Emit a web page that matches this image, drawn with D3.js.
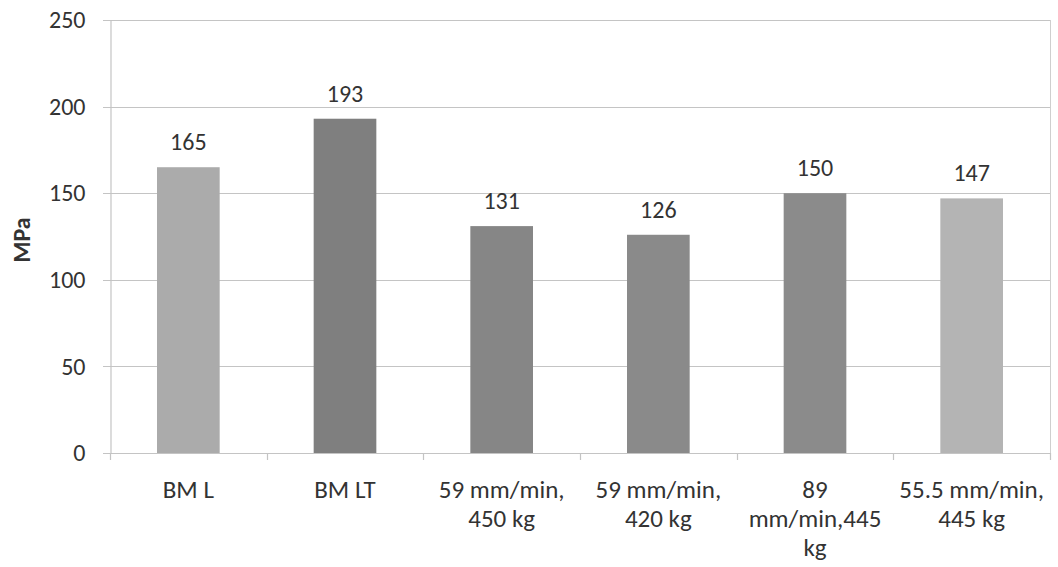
<!DOCTYPE html>
<html>
<head>
<meta charset="utf-8">
<script src="https://cdn.jsdelivr.net/npm/d3@7"></script>
<style>
  html, body { margin: 0; padding: 0; background: #ffffff; }
  svg { display: block; }
  text { font-family: Carlito, Calibri, Lato, "Liberation Sans", sans-serif; fill: #333; }
</style>
</head>
<body>
<svg id="chart" width="1058" height="567"></svg>
<script>
// Tensile strength by condition
const categories = [
  ["BM L"],
  ["BM LT"],
  ["59 mm/min,", "450 kg"],
  ["59 mm/min,", "420 kg"],
  ["89", "mm/min,445", "kg"],
  ["55.5 mm/min,", "445 kg"]
];
const values = [165, 193, 131, 126, 150, 147];
const barShades = ["#ababab", "#7f7f7f", "#868686", "#8a8a8a", "#8b8b8b", "#b4b4b4"];
const yTicks = [0, 50, 100, 150, 200, 250];
const yTitle = "MPa";

const FONT = "Carlito, Calibri, Lato, 'Liberation Sans', sans-serif";
const FS = 24;

const svg = d3.select("#chart");
const plot = { left: 110, right: 1050, top: 20, bottom: 453 };

const keys = categories.map((c, i) => i);
const x = d3.scaleBand().domain(keys).range([plot.left, plot.right]).paddingInner(0.6).paddingOuter(0.3);
const xBoundary = d3.scaleBand().domain(keys).range([plot.left, plot.right]);
const y = d3.scaleLinear().domain([0, 250]).range([plot.bottom, plot.top]);

// Gridlines
svg.append("g").selectAll("line").data(yTicks).join("line")
  .attr("x1", plot.left - 7).attr("x2", plot.right)
  .attr("y1", d => Math.round(y(d)) + 0.5).attr("y2", d => Math.round(y(d)) + 0.5)
  .attr("stroke", "#c4c4c4").attr("stroke-width", 1.2);

// Right border of the plot area
svg.append("line")
  .attr("x1", plot.right + 0.5).attr("x2", plot.right + 0.5)
  .attr("y1", plot.top).attr("y2", plot.bottom)
  .attr("stroke", "#cfcfcf").attr("stroke-width", 1);

// Bars
svg.append("g").selectAll("rect").data(values).join("rect")
  .attr("x", (d, i) => x(i))
  .attr("width", x.bandwidth())
  .attr("y", d => y(d))
  .attr("height", d => y(0) - y(d))
  .attr("fill", (d, i) => barShades[i]);

// Value labels
svg.append("g").selectAll("text").data(values).join("text")
  .attr("x", (d, i) => x(i) + x.bandwidth() / 2)
  .attr("y", d => y(d) - 17)
  .attr("text-anchor", "middle")
  .attr("font-size", FS)
  .text(d => d);

// Y axis
const yAxis = svg.append("g")
  .attr("transform", `translate(${plot.left + 0.5},0)`)
  .call(d3.axisLeft(y).tickValues(yTicks).tickSize(0).tickPadding(25));
yAxis.select(".domain").attr("stroke", "#c4c4c4").attr("stroke-width", 1.2);
yAxis.selectAll("text").attr("font-size", FS).attr("fill", "#333").style("font-family", FONT);

// X axis category boundary ticks
const bounds = keys.map(k => xBoundary(k)).concat([plot.right]);
svg.append("g").selectAll("line").data(bounds).join("line")
  .attr("x1", d => Math.round(d) + 0.5).attr("x2", d => Math.round(d) + 0.5)
  .attr("y1", plot.bottom).attr("y2", plot.bottom + 7)
  .attr("stroke", "#c4c4c4").attr("stroke-width", 1.2);

// Category labels (multi-line)
const catG = svg.append("g").selectAll("text").data(categories).join("text")
  .attr("text-anchor", "middle")
  .attr("font-size", 25);
catG.selectAll("tspan").data((d, i) => d.map(line => ({ line, i }))).join("tspan")
  .attr("x", d => x(d.i) + x.bandwidth() / 2)
  .attr("y", (d, j) => 498 + j * 29)
  .text(d => d.line);

// Y axis title
svg.append("text")
  .attr("transform", "translate(30,240) rotate(-90)")
  .attr("text-anchor", "middle")
  .attr("font-size", FS)
  .attr("font-weight", "bold")
  .text(yTitle);
</script>
</body>
</html>
